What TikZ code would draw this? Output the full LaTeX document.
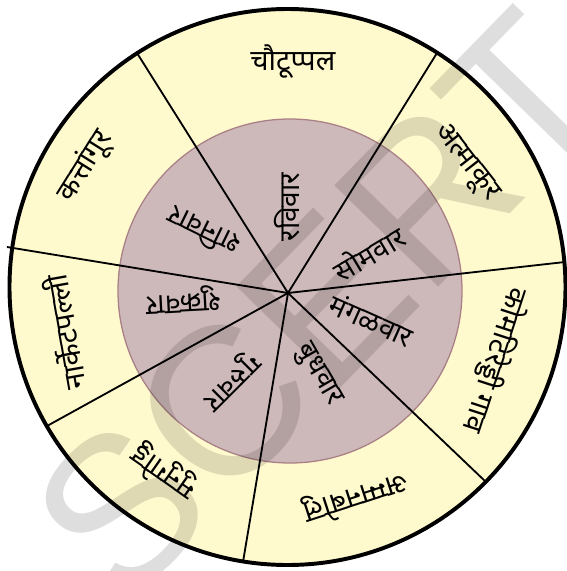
\documentclass[tikz,border=0pt]{standalone}
\usepackage{fontspec}
\usepackage{tikz}
\usetikzlibrary{positioning, calc}
\newfontfamily\devfont[Script=Devanagari]{Noto Sans}
\newfontfamily\markfont{Liberation Sans}
\definecolor{ringyellow}{RGB}{255,249,206}
\definecolor{daymauve}{RGB}{206,185,186}
\definecolor{dayedge}{RGB}{168,128,133}

\begin{document}
\begin{tikzpicture}[thick,
    spoke/.style={line width=1.3pt, black},
    place/.style={font=\devfont\fontsize{20.5}{24}\selectfont, inner sep=0pt},
    day/.style={font=\devfont\fontsize{20}{24}\selectfont, inner sep=0pt}]
\useasboundingbox (-7.2,-6.95) rectangle (6.975,7.325);

% Outer ring (villages)
\fill[ringyellow] (-0.0125,0.15) circle (6.95);

% Inner disc (days)
\fill[daymauve] (0.05,0.05) circle (4.3);
\draw[dayedge, line width=0.9pt] (0.05,0.05) circle (4.3);

% Spokes from the hub
\coordinate (hub) at (0,0);
\foreach \x/\y in {-3.775/6.0, 3.725/6.0, 6.925/0.775, 4.95/-4.725,
                   -1.125/-6.725, -6.025/-3.325, -7.025/1.15}
  \draw[spoke] (hub) -- (\x,\y);

% Rim
\draw[line width=2.8pt] (-0.0125,0.15) circle (6.95);

% Villages
\node[place] (chautuppal) at (88.8:5.78) {चौटूप्पल};
\node[place, rotate=-52] (atmakur) at (36.1:5.5) {अत्माकूर};
\node[place, rotate=-108] (komatireddy) at (-18:5.45) {कोमटिरेड्डी गाव};
\node[place, rotate=198] (ammanabolu) at (288.4:5.38) {अम्मनबोलु};
\node[place, rotate=145] (munugodu) at (235.3:5.45) {मुनुगोडु};
\node[place, rotate=100] (narketpalli) at (190:5.68) {नार्केटपल्ली};
\node[place, rotate=58] (kattangur) at (148:5.98) {कत्तांगूर};

% Days of the week
\node[day, rotate=90] (ravivar) at (90.7:2.15) {रविवार};
\node[day, rotate=31] (somvar) at (26.3:2.25) {सोमवार};
\node[day, rotate=-24] (mangalvar) at (-17.8:2.2) {मंगळवार};
\node[day, rotate=-60] (budhvar) at (-70:2.18) {बुधवार};
\node[day, rotate=225] (guruvar) at (236.3:2.62) {गुरुवार};
\node[day, rotate=183] (shukravar) at (183.8:2.62) {शुक्रवार};
\node[day, rotate=154] (shanivar) at (144.3:2.61) {शनिवार};

% Watermark
\begin{scope}
\clip (-7.2,-6.95) rectangle (6.975,7.325);
\node[font=\markfont\fontsize{150}{150}\selectfont, text=black, opacity=0.13,
      rotate=45.7, inner sep=0pt] (mark) at (0.8,-0.3) {SCERT};
\end{scope}
\end{tikzpicture}
\end{document}
